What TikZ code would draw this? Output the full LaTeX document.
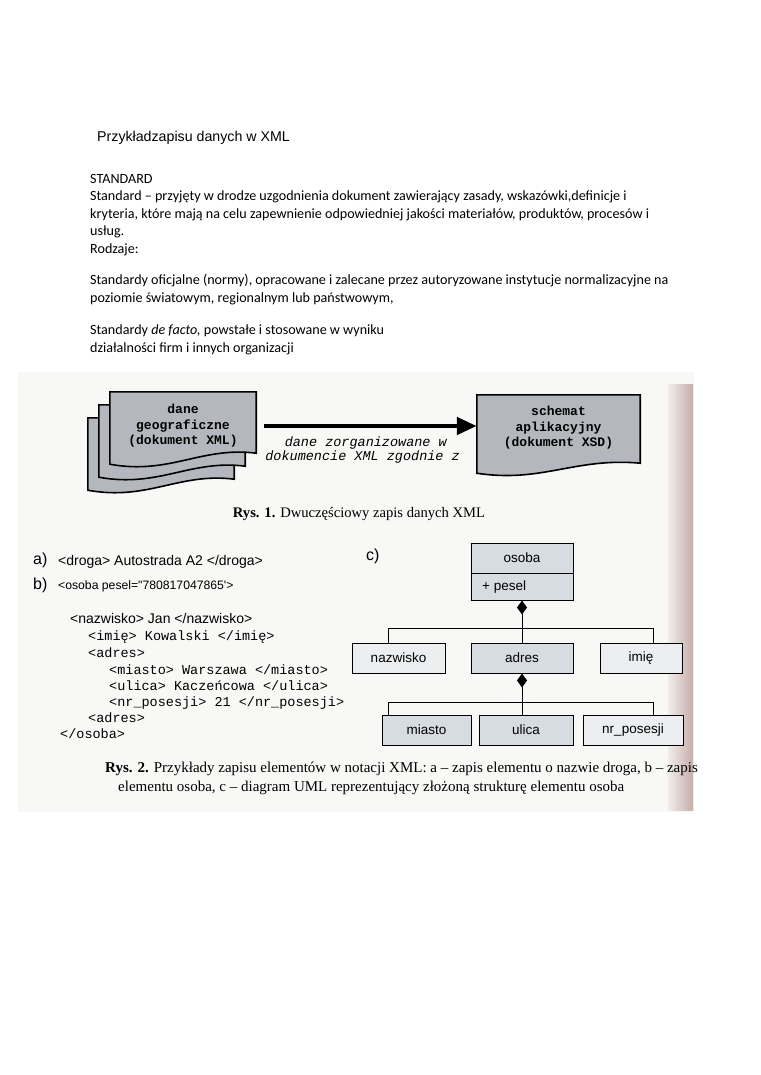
\documentclass[tikz,border=0pt]{standalone}
\usepackage{fontspec}
\setmainfont{Liberation Serif}
\newfontfamily\arialf{Liberation Sans}
\newfontfamily\calif{Carlito}
\newfontfamily\courf{Liberation Mono}
\newfontfamily\timesf{Liberation Serif}
\usetikzlibrary{arrows.meta,calc}
\definecolor{docgray}{HTML}{B4B8BE}
\definecolor{umlblue}{HTML}{D7DCE3}
\definecolor{umllight}{HTML}{ECEEF0}
\definecolor{scanbg}{HTML}{F8F8F7}
\definecolor{stripA}{HTML}{F2ECEA}
\definecolor{stripB}{HTML}{C4AEA8}
\tikzset{
  body/.style={anchor=base west, inner sep=0pt, font=\calif\fontsize{14.1}{16}\selectfont},
  doctext/.style={align=center, font=\courf\bfseries\fontsize{13}{15.5}\selectfont},
  docline/.style={draw=black, line width=1.6pt, line join=miter},
  ann/.style={inner sep=0pt, anchor=east, font=\courf\itshape\fontsize{13.5}{15}\selectfont},
  captxt/.style={inner sep=0pt, anchor=base west, font=\timesf\fontsize{15}{17}\selectfont},
  lbl/.style={anchor=west, inner sep=0pt, font=\arialf\fontsize{16}{18}\selectfont},
  xmla/.style={anchor=base west, inner sep=0pt, font=\arialf\fontsize{14}{15}\selectfont},
  xmlc/.style={anchor=base west, inner sep=0pt, font=\courf\fontsize{13.5}{15}\selectfont},
  umlbox/.style={draw=black, line width=1pt, fill=umlblue, inner sep=0pt, font=\arialf\fontsize{13.5}{16}\selectfont},
  umllt/.style={umlbox, fill=umllight},
  conn/.style={draw=black, line width=1pt},
  comp/.style={conn, {Diamond[length=14pt,width=10pt,fill=black]}-},
  bigarrow/.style={draw=black, line width=4.5pt, -{Triangle[length=20pt,width=17pt]}}
}
\begin{document}
\begin{tikzpicture}[x=1pt,y=-1pt]
\useasboundingbox (0,0) rectangle (760,1075);
\fill[white] (0,0) rectangle (760,1075);
% scanned area
\fill[scanbg] (18,372) rectangle (694,812);
\shade[left color=stripA, right color=stripB] (668,384) rectangle (693,810);

% header text
\node[anchor=base west, inner sep=0pt, font=\arialf\fontsize{14.2}{17}\selectfont] (title) at (97,142) {Przykładzapisu danych w XML};
\node[body] (t1) at (90,183.5) {STANDARD};
\node[body] (t2) at (90,201) {Standard – przyjęty w drodze uzgodnienia dokument zawierający zasady, wskazówki,definicje i};
\node[body] (t3) at (90,218.5) {kryteria, które mają na celu zapewnienie odpowiedniej jakości materiałów, produktów, procesów i};
\node[body] (t4) at (90,236) {usług.};
\node[body] (t5) at (90,253.5) {Rodzaje:};
\node[body] (t6) at (90,284.5) {Standardy oficjalne (normy), opracowane i zalecane przez autoryzowane instytucje normalizacyjne na};
\node[body] (t7) at (90,302) {poziomie światowym, regionalnym lub państwowym,};
\node[body] (t8) at (90,334.5) {Standardy \textit{de facto,} powstałe i stosowane w wyniku};
\node[body] (t9) at (90,352) {działalności firm i innych organizacji};

% ---------- Figure 1 ----------
\node[minimum width=146pt, minimum height=61pt, inner sep=0pt] (xml) at (183,422.5) {};
\node[minimum width=163pt, minimum height=68pt, inner sep=0pt] (xsd) at (558.5,429) {};
% stacked documents (back to front)
\foreach \dx/\dy in {-22/26,-11/13}{
  \draw[docline, fill=docgray]
    ($(xml.north west)+(\dx,\dy)$) -- ($(xml.north east)+(\dx,\dy)$) -- ($(xml.south east)+(\dx,\dy)$)
    .. controls ($(xml.south east)+(\dx-55,\dy-7)$) and ($(xml.south west)+(\dx+60,\dy+22)$) .. ($(xml.south west)+(\dx,\dy+11)$) -- cycle;
}
\draw[docline, fill=docgray]
  (xml.north west) -- (xml.north east) -- (xml.south east)
  .. controls ($(xml.south east)+(-55,-7)$) and ($(xml.south west)+(60,22)$) .. ($(xml.south west)+(0,11)$) -- cycle;
\draw[docline, fill=docgray]
  (xsd.north west) -- (xsd.north east) -- (xsd.south east)
  .. controls ($(xsd.south east)+(-65,-6)$) and ($(xsd.south west)+(65,20)$) .. ($(xsd.south west)+(0,10)$) -- cycle;
\node[doctext] (xmltxt) at (183,426) {dane\\geograficzne\\(dokument XML)};
\node[doctext] (xsdtxt) at (558.5,428) {schemat\\aplikacyjny\\(dokument XSD)};
\draw[bigarrow, shorten <=8pt] (xml.east |- 0,426) -- (xsd.west |- 0,426);
\node[ann] (ann1) at (447,443) {dane zorganizowane w};
\node[ann] (ann2) at (460,457.5) {dokumencie XML zgodnie z};
\node[captxt, anchor=base, font=\timesf\fontsize{14.6}{17}\selectfont] (cap1) at (359,517) {\textbf{Rys. 1.} Dwuczęściowy zapis danych XML};

% ---------- Figure 2: a), b) ----------
\node[lbl] (la) at (33,560) {a)};
\node[xmla] (xa) at (58,565) {<droga> Autostrada A2 </droga>};
\node[lbl] (lb) at (33,585) {b)};
\node[xmla, font=\arialf\fontsize{12.2}{15}\selectfont] (xb) at (58,589.5) {<osoba pesel="780817047865'>};
\node[xmla] (x1) at (70,623) {<nazwisko> Jan </nazwisko>};
\node[xmlc] (x2) at (88,640) {<imię> Kowalski </imię>};
\node[xmlc] (x3) at (88,657) {<adres>};
\node[xmlc] (x4) at (109,674) {<miasto> Warszawa </miasto>};
\node[xmlc] (x5) at (109,690) {<ulica> Kaczeńcowa </ulica>};
\node[xmlc] (x6) at (109,706) {<nr\_posesji> 21 </nr\_posesji>};
\node[xmlc] (x7) at (88,722) {<adres>};
\node[xmlc] (x8) at (60,738) {</osoba>};

% ---------- Figure 2: c) UML ----------
\node[lbl] (lc) at (366,556) {c)};
\node[umlbox, minimum width=102pt, minimum height=57pt] (osoba) at (522,571.5) {};
\draw[line width=1pt] (osoba.west |- 0,573) -- (osoba.east |- 0,573);
\node[inner sep=0pt, font=\arialf\fontsize{13.5}{16}\selectfont] (osobaname) at (522,558) {osoba};
\node[inner sep=0pt, anchor=west, font=\arialf\fontsize{13.5}{16}\selectfont] (pesel) at (482,587) {+ pesel};

\node[umllt, minimum width=93pt, minimum height=30pt] (nazwisko) at (398.5,658) {nazwisko};
\node[umlbox, minimum width=102pt, minimum height=30pt] (adres) at (522,658) {adres};
\node[umllt, minimum width=82pt, minimum height=30pt] (imie) at (641,658) {imię};

\node[umlbox, minimum width=89pt, minimum height=30pt] (miasto) at (426.5,730) {miasto};
\node[umlbox, minimum width=94pt, minimum height=30pt] (ulica) at (526,730) {ulica};
\node[umllt, minimum width=100pt, minimum height=30pt] (nrposesji) at (633,730) {nr\_posesji};

\coordinate (bus1) at (522,628);
\coordinate (bus2) at (522,702);
\draw[comp] (osoba.south) -- (bus1);
\draw[conn] (bus1) -| ([xshift=-10.5pt]nazwisko.north);
\draw[conn] (bus1) -- (adres.north);
\draw[conn] (bus1) -| ([xshift=12pt]imie.north);
\draw[comp] (adres.south) -- (bus2);
\draw[conn] (bus2) -| ([xshift=-38.5pt]miasto.north);
\draw[conn] (bus2) -- (ulica.north -| bus2);
\draw[conn] (bus2) -| ([xshift=20pt]nrposesji.north);

\node[captxt] (cap2a) at (105,772) {\textbf{Rys. 2.} Przykłady zapisu elementów w notacji XML: a – zapis elementu o nazwie droga, b – zapis};
\node[captxt] (cap2b) at (118,791) {elementu osoba, c – diagram UML reprezentujący złożoną strukturę elementu osoba};
\end{tikzpicture}
\end{document}
